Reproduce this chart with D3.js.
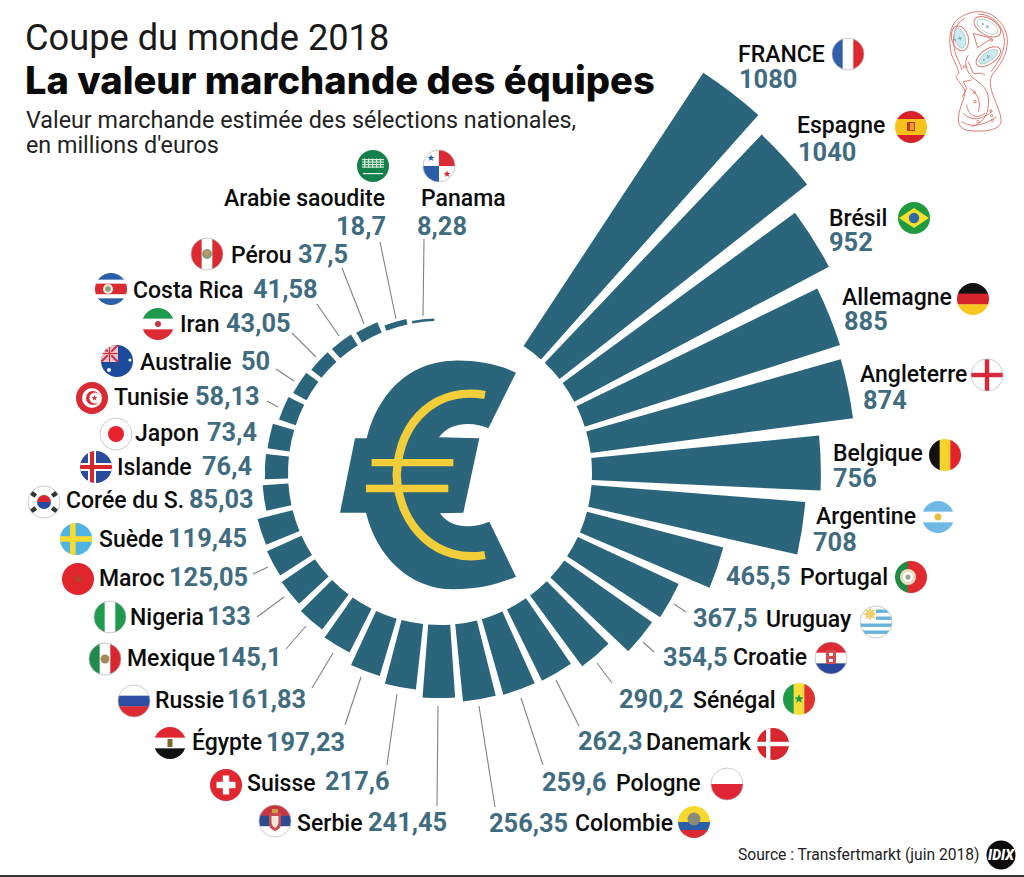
<!DOCTYPE html>
<html lang="fr"><head><meta charset="utf-8">
<style>
html,body{margin:0;padding:0;background:#fff}
svg{display:block}
text{font-family:Roboto,sans-serif}
.name{font-size:23px;font-weight:500;fill:#0c0c0c}
.val{font-size:25.4px;font-weight:700;fill:#3f6c80}
</style>
<script src="https://d3js.org/d3.v7.min.js"></script>
</head><body>
<script>
const teams = ["FRANCE","Espagne","Brésil","Allemagne","Angleterre","Belgique","Argentine","Portugal","Uruguay","Croatie","Sénégal","Danemark","Pologne","Colombie","Serbie","Suisse","Égypte","Russie","Mexique","Nigeria","Maroc","Suède","Corée du S.","Islande","Japon","Tunisie","Australie","Iran","Costa Rica","Pérou","Arabie saoudite","Panama"];
const values = [1080,1040,952,885,874,756,708,465.5,367.5,354.5,290.2,262.3,259.6,256.35,241.45,217.6,197.23,161.83,145.1,133,125.05,119.45,85.03,76.4,73.4,58.13,50,43.05,41.58,37.5,18.7,8.28];
// label placement, same order as teams: flag centre, name start/baseline, value start/baseline
const flagXY = [[848,54],[911,127],[914,218],[973,299],[987,375],[945,455],[938,517],[911,577],[876,622],[831,658],[799,699],[773,744],[727,784],[694,822],[275,821],[226,785],[170,743],[134,701],[105,659],[110,617],[78,579],[76,539],[44,502],[96,467],[116,434],[92,398],[117,361],[158,324],[111,289],[207,254],[373,166],[439,166]];
const nameXY = [[738,62],[797,133],[829,226],[842,305],[860,382],[833,461],[816,524],[800,585],[766,627],[733,665],[693,708],[646,750],[616,791],[575,831],[297,831],[247,791],[192,750],[155,708],[127,666],[130,625],[99,586],[99,547],[66,508],[117,475],[135,441],[114,405],[140,370],[180,332],[133,298],[231,263],[224,206],[421,206]];
const valueXY = [[739,88],[798,161],[829,251],[844,330],[863,409],[833,487],[813,551],[726,585],[693,627],[663,666],[619,708],[578,750],[542,791],[489,832],[368,831],[325,790],[266,751],[227,708],[217,666],[207,625],[169,586],[168,547],[189,508],[202,475],[207,441],[195,405],[241,370],[226,332],[253,298],[298,263],[336,235],[417,235]];
// callout lines for the labels that sit away from their bar, keyed by team
const leaderLines = {"Uruguay":[686,612,674,604],"Croatie":[654,652,643,642],"Sénégal":[612,683,597,663],"Danemark":[579,726,556,680],"Pologne":[543,765,521,698],"Colombie":[495,807,479,706],"Serbie":[437,806,438,706],"Suisse":[387,765,397,694],"Égypte":[345,725,361,677],"Russie":[312,688,333,653],"Mexique":[286,649,306,626],"Nigeria":[257,617,284,597],"Maroc":[253,574,268,567],"Tunisie":[267,401,278,407],"Australie":[276,369,294,381],"Iran":[292,333,316,357],"Costa Rica":[317,304,339,336],"Pérou":[342,268,364,324],"Arabie saoudite":[380,242,396,319],"Panama":[424,239,423,316]};

const W=1024,H=877,cx=440,cy=473,R0=152,R1=479;
const deg=Math.PI/180, STEP=10.2, FIRST=33.35;
const svg=d3.select("body").append("svg").attr("width",W).attr("height",H).attr("viewBox",`0 0 ${W} ${H}`);
svg.append("rect").attr("width",W).attr("height",H).attr("fill","#fff");

const BAR="#2b657b";
const radius=d3.scaleLinear().domain([0,1080]).range([R0,R1]);
const angle=d3.scaleBand().domain(teams).range([(FIRST-0.95)*deg,(FIRST-0.95+STEP*32)*deg]).paddingInner(0.186).paddingOuter(0.093);
const arc=d3.arc();

// leader lines
svg.append("g").selectAll("line").data(Object.entries(leaderLines)).join("line")
 .attr("x1",d=>d[1][0]).attr("y1",d=>d[1][1]).attr("x2",d=>d[1][2]).attr("y2",d=>d[1][3])
 .attr("stroke","#7d8486").attr("stroke-width",1.1);

// bars
svg.append("g").attr("transform",`translate(${cx},${cy})`).selectAll("path").data(teams).join("path")
 .attr("fill",BAR)
 .attr("d",(t,i)=>arc({innerRadius:R0,outerRadius:radius(values[i]),startAngle:angle(t),endAngle:angle(t)+angle.bandwidth()}));

// titles
const T=(x,y,s,size,weight,extra={})=>{const e=svg.append("text").attr("x",x).attr("y",y).text(s).style("font-size",size+"px").style("font-weight",weight).attr("fill","#111");Object.entries(extra).forEach(([k,v])=>e.style(k,v));return e;};
T(25,50,"Coupe du monde 2018",36.2,400,{"fill":"#1a1a1a"});
T(25,94,"La valeur marchande des équipes",38.1,800,{"font-family":"Inter,sans-serif","fill":"#0a0a0a"});
T(26,128,"Valeur marchande estimée des sélections nationales,",23.3,400,{"fill":"#222"});
T(26,153,"en millions d'euros",23.3,400,{"fill":"#222"});
T(738,860,"Source : Transfertmarkt (juin 2018)",15.6,400,{"fill":"#222"});

// labels
teams.forEach((t,i)=>{
  svg.append("text").attr("class","name").attr("x",nameXY[i][0]).attr("y",nameXY[i][1]).text(t);
  svg.append("text").attr("class","val").attr("x",valueXY[i][0]).attr("y",valueXY[i][1]).text(String(values[i]).replace(".",","));
});

// euro symbol (drawn in a local 3x grid)
const eu=svg.append("g").attr("transform","translate(240,300) scale(0.33333)");
eu.append("path").attr("fill",BAR).attr("d","M828,218 C770,190 700,180 640,182 C500,185 410,290 380,415 L345,415 L300,638 L378,638 C410,770 510,868 640,868 C710,868 770,855 828,830 L748,665 C710,680 640,695 600,640 L670,638 L718,415 L597,412 C630,365 700,365 745,385 Z");
eu.append("path").attr("fill","none").attr("stroke","#f2cf3a").attr("stroke-width",25).attr("d","M735,285 C600,260 478,350 470,525 C478,690 600,790 735,765");
eu.append("path").attr("fill","#f2cf3a").attr("d","M395,477 H640 V499 H395 Z M378,554 H625 V577 H378 Z");

// trophy
const tr=svg.append("g").attr("transform","translate(935,5) scale(0.33333)").attr("fill","none").attr("stroke","#d97b6f").attr("stroke-width",3);
tr.append("path").attr("d","M130,20 C175,18 218,60 217,110 C217,150 195,180 175,205 C162,222 165,240 172,265 C185,300 200,330 198,350 C195,372 160,380 120,378 C90,378 72,372 70,345 C70,315 85,290 90,265 C92,250 80,245 62,215 L72,205 C68,185 60,175 50,150 C40,110 40,55 80,35 C95,25 115,20 130,20Z");
tr.append("path").attr("d","M130,28 C170,26 208,62 208,110 C208,145 188,175 168,200 M90,40 C62,52 50,90 58,130 C62,160 78,175 80,195 M100,150 C85,170 95,200 110,215 C140,240 165,250 160,300 C158,335 140,355 110,365 M110,225 L85,230 L95,250 L82,275 M115,85 L170,100 L128,128 Z M95,300 C100,330 120,345 150,325 M85,325 C110,350 140,345 170,320 M80,350 C110,370 150,360 185,335 M105,250 C125,262 140,290 130,320 M100,170 L115,205 L140,205 L150,210");
[[157,65,44,25,30,"#ffffff"],[75,100,25,38,-15,"#cfe8ee"],[160,155,42,22,-35,"#cfe8ee"]].forEach(e=>{
 const g=tr.append("g").attr("transform",`translate(${e[0]},${e[1]}) rotate(${e[4]})`);
 g.append("ellipse").attr("rx",e[2]).attr("ry",e[3]);
 g.append("ellipse").attr("rx",e[2]-9).attr("ry",e[3]-8).attr("fill",e[5]).attr("stroke","#9cc3c9").attr("stroke-width",2);
 g.append("path").attr("d","M-6,0H6M0,-6V6").attr("stroke","#6ea4ad").attr("stroke-width",2.5);
 g.append("circle").attr("cx",-16).attr("r",3).attr("fill","#6ea4ad").attr("stroke","none");
});
tr.selectAll("circle.d").data([[118,262],[120,290],[168,318],[170,332],[172,346],[130,350],[88,185],[170,105]]).join("circle").attr("cx",d=>d[0]).attr("cy",d=>d[1]).attr("r",3.5);

// flags
const defs=svg.append("defs");
defs.append("clipPath").attr("id","fc").append("circle").attr("r",16);
const rc=(g,x,y,w,h,f)=>g.append("rect").attr("x",x).attr("y",y).attr("width",w).attr("height",h).attr("fill",f);
const ci=(g,x,y,r,f)=>g.append("circle").attr("cx",x).attr("cy",y).attr("r",r).attr("fill",f);
const pa=(g,d,f,s,w)=>g.append("path").attr("d",d).attr("fill",f||"none").attr("stroke",s||"none").attr("stroke-width",w||0);
const hs=(g,cols,ws)=>{let y=-16;const tot=d3.sum(ws||cols.map(()=>1));cols.forEach((c,i)=>{const h=32*(ws?ws[i]:1)/tot;rc(g,-16,y,32,h+.3,c);y+=h;});};
const vs=(g,cols,ws)=>{let x=-16;const tot=d3.sum(ws||cols.map(()=>1));cols.forEach((c,i)=>{const w=32*(ws?ws[i]:1)/tot;rc(g,x,-16,w+.3,32,c);x+=w;});};
const star=(g,x,y,r,f,n=5,k0=.42)=>{const p=d3.range(2*n).map(k=>{const a=k*(180/n)*deg-Math.PI/2,q=k%2?r*k0:r;return [x+q*Math.cos(a),y+q*Math.sin(a)];});pa(g,"M"+p.join("L")+"Z",f);};
const flagArt={
 "FRANCE":g=>vs(g,["#2f5fa8","#fff","#e0262f"]),
 "Espagne":g=>{hs(g,["#d8222a","#f7c21a","#d8222a"],[1,2,1]);rc(g,-4,-5,8,9,"#c0392b");rc(g,-1,-4,4,7,"#e8a020");},
 "Brésil":g=>{rc(g,-16,-16,32,32,"#1f9a3e");pa(g,"M-15,0L0,-10L15,0L0,10Z","#f7e02b");ci(g,0,0,5.2,"#2f6aa8");},
 "Allemagne":g=>hs(g,["#111","#d8222a","#f6c81e"]),
 "Angleterre":g=>{rc(g,-16,-16,32,32,"#fff");rc(g,-16,-2.2,32,4.4,"#d8293a");rc(g,-2.2,-16,4.4,32,"#d8293a");},
 "Belgique":g=>vs(g,["#111","#f6d32c","#e2252b"]),
 "Argentine":g=>{hs(g,["#6fb9e6","#fff","#6fb9e6"]);ci(g,0,0,3.4,"#e9bd3a");},
 "Portugal":g=>{vs(g,["#1f8a44","#df2a2f"],[2,3]);ci(g,-3,0,8,"#e8dcc0");ci(g,-3,0,5,"#fff");ci(g,-3,0,2.6,"#9aa59a");},
 "Uruguay":g=>{rc(g,-16,-16,32,32,"#fff");[-12.5,-5.5,1.5,8.5].forEach(y=>rc(g,-16,y,32,3.4,"#68b3dc"));rc(g,-16,-16,16,15,"#fff");star(g,-6,-8,7,"#eed06a",8,.55);},
 "Croatie":g=>{hs(g,["#dc2a33","#fff","#27489c"]);rc(g,-5,-8,10,14,"#d34a50");rc(g,-2,-5,4,3,"#fff");rc(g,-2,1,4,3,"#fff");},
 "Sénégal":g=>{vs(g,["#1f9a48","#f6df3a","#e0322e"]);star(g,0,0,5,"#1f9a48");},
 "Danemark":g=>{rc(g,-16,-16,32,32,"#d8262f");rc(g,-16,-2.2,32,4.4,"#fff");rc(g,-7,-16,4.4,32,"#fff");},
 "Pologne":g=>hs(g,["#fff","#df2437"]),
 "Colombie":g=>{hs(g,["#f7d92e","#2a5ea8","#dc2a33"],[2,1,1]);ci(g,0,-3,6.5,"#8a8a7a");},
 "Serbie":g=>{hs(g,["#c8343f","#2d4a8f","#fff"]);pa(g,"M-6,-8H6V3Q6,8 0,10Q-6,8 -6,3Z","#c94a4f");pa(g,"M-3.5,-5H3.5V2Q3,5 0,7Q-3,5 -3.5,2Z","#efe6d8");rc(g,-3,-12,6,4,"#c9a24a");},
 "Suisse":g=>{rc(g,-16,-16,32,32,"#e0262f");rc(g,-9.5,-3.2,19,6.4,"#fff");rc(g,-3.2,-9.5,6.4,19,"#fff");},
 "Égypte":g=>{hs(g,["#e0262f","#fff","#111"]);rc(g,-2.5,-4,5,8,"#7a6a30");},
 "Russie":g=>hs(g,["#fff","#2c4fa3","#dd2a33"]),
 "Mexique":g=>{vs(g,["#1f8a4a","#fff","#d8262f"]);ci(g,0,0,4.5,"#a08a5a");},
 "Nigeria":g=>vs(g,["#1f9a4e","#fff","#1f9a4e"]),
 "Maroc":g=>{rc(g,-16,-16,32,32,"#e0252b");star(g,0,0,5.5,"#b0452a");},
 "Suède":g=>{rc(g,-16,-16,32,32,"#4fb4e3");rc(g,-16,-2.8,32,5.6,"#f7dc2f");rc(g,-6,-16,5.6,32,"#f7dc2f");},
 "Corée du S.":g=>{rc(g,-16,-16,32,32,"#fff");pa(g,"M-7,0A7,7 0 0 1 7,0Z","#d8262f");pa(g,"M-7,0A7,7 0 0 0 7,0Z","#27489c");[[-11,-8,37],[11,-8,-37],[-11,8,-37],[11,8,37]].forEach(b=>{g.append("rect").attr("x",-3.5).attr("y",-2.2).attr("width",7).attr("height",4.4).attr("fill","#333").attr("transform",`translate(${b[0]},${b[1]}) rotate(${b[2]})`);});},
 "Islande":g=>{rc(g,-16,-16,32,32,"#2a4c9c");rc(g,-16,-4,32,8,"#fff");rc(g,-8,-16,8,32,"#fff");rc(g,-16,-2,32,4,"#d8262f");rc(g,-6,-16,4,32,"#d8262f");},
 "Japon":g=>{rc(g,-16,-16,32,32,"#fff");ci(g,0,0,8,"#e8212f");},
 "Tunisie":g=>{rc(g,-16,-16,32,32,"#d92a33");ci(g,0,0,10,"#fff");ci(g,1,0,7,"#d92a33");ci(g,3,0,5.6,"#fff");star(g,2.5,0,3,"#d92a33");},
 "Australie":g=>{rc(g,-16,-16,32,32,"#1c4a9c");rc(g,-16,-16,17,17,"#e8c6d0");pa(g,"M-16,-16L1,1M1,-16L-16,1","none","#c8344a",2.2);rc(g,-16,-9,17,3,"#fff");rc(g,-9,-16,3,17,"#fff");rc(g,-16,-8.3,17,1.6,"#d8262f");rc(g,-8.3,-16,1.6,17,"#d8262f");ci(g,-8,9,2,"#fff");ci(g,13,-1,1.6,"#fff");},
 "Iran":g=>{hs(g,["#1f9a4e","#fff","#dd2a33"]);ci(g,0,0,3,"#c23a3f");},
 "Costa Rica":g=>{hs(g,["#2a5ea8","#fff","#dc2a33","#fff","#2a5ea8"],[1,.6,1.6,.6,1]);ci(g,-3,0,5,"#f3eee0");ci(g,-3,0,2.8,"#8aa070");},
 "Pérou":g=>{vs(g,["#dc2a33","#fff","#dc2a33"]);ci(g,0,0,5,"#8a9a70");ci(g,0,-1,2.5,"#c09a60");},
 "Arabie saoudite":g=>{rc(g,-16,-16,32,32,"#14804a");[-7,-4.5,-2,.5].forEach(y=>rc(g,-11,y,22,1.2,"#d6ecd9"));[-9,-5,-1,3,7].forEach(x=>rc(g,x,-7.5,1.2,9,"#d6ecd9"));rc(g,-10,7,20,1.2,"#eef6ef");},
 "Panama":g=>{rc(g,-16,-16,32,32,"#fff");rc(g,0,-16,16,16,"#dc2a33");rc(g,-16,0,16,16,"#2a5ea8");star(g,-8,-8,3.6,"#2a5ea8");star(g,8,8,3.6,"#dc2a33");}
};
const paleRim=new Set(["FRANCE","Angleterre","Japon","Pologne","Corée du S.","Russie","Panama","Uruguay","Pérou","Nigeria","Mexique","Serbie","Croatie"]);
teams.forEach((t,i)=>{
  const g=svg.append("g").attr("transform",`translate(${flagXY[i][0]},${flagXY[i][1]})`);
  const inner=g.append("g").attr("clip-path","url(#fc)");
  flagArt[t](inner);
  if(paleRim.has(t)) g.append("circle").attr("r",16).attr("fill","none").attr("stroke","#b5b5b5").attr("stroke-width",.7);
});

// agency badge
ci(svg,1001,855,14.5,"#0b0b0b");
svg.append("text").attr("x",1001).attr("y",860).attr("text-anchor","middle").text("IDIX").style("font-size","14px").style("font-weight",900).style("font-style","italic").attr("fill","#fff");
// bottom rule
svg.append("rect").attr("x",0).attr("y",875).attr("width",W).attr("height",2).attr("fill","#333");
</script>
</body></html>
